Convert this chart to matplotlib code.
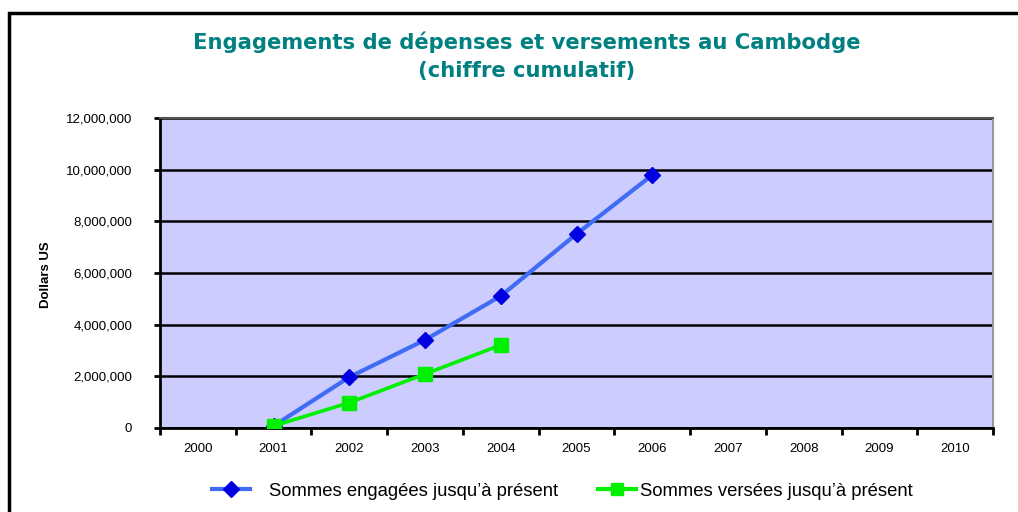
import numpy as np
import matplotlib.pyplot as plt
from matplotlib.patches import Rectangle
from matplotlib.lines import Line2D

# ===============================
# Données
# ===============================
years = ["2000", "2001", "2002", "2003", "2004", "2005",
         "2006", "2007", "2008", "2009", "2010"]

engagees_years = ["2001", "2002", "2003", "2004", "2005", "2006"]
engagees = [80000, 1970000, 3410000, 5110000, 7510000, 9790000]

versees_years = ["2001", "2002", "2003", "2004"]
versees = [80000, 980000, 2090000, 3210000]

yticks = [0, 2000000, 4000000, 6000000, 8000000, 10000000, 12000000]

BLUE_LINE = "#3F6BF5"
BLUE_MARK = "#0000E0"
GREEN = "#00F000"

# ===============================
# Figure
# ===============================
plt.rcParams["font.family"] = ["Liberation Sans", "DejaVu Sans"]

fig = plt.figure(figsize=(10.18, 5.12), dpi=100)
ax = fig.add_axes([160 / 1018, 1 - 428 / 512, 833 / 1018, 310 / 512])

# cadre extérieur
fig.patches.append(Rectangle((9 / 1018, -0.1), 1.2, 1 - 13 / 512 + 0.1,
                             transform=fig.transFigure, fill=False,
                             edgecolor="black", linewidth=2.5))

ax.set_facecolor("#CCCCFF")

xpos = {y: i for i, y in enumerate(years)}

ax.plot([xpos[y] for y in engagees_years], engagees, color=BLUE_LINE,
        lw=3, marker="D", ms=8.5, mfc=BLUE_MARK, mec=BLUE_MARK, zorder=4)
ax.plot([xpos[y] for y in versees_years], versees, color=GREEN,
        lw=2.6, marker="s", ms=10, mfc=GREEN, mec=GREEN, zorder=4)

ax.set_xlim(-0.5, len(years) - 0.5)
ax.set_ylim(0, 12000000)

ax.set_xticks(range(len(years)))
ax.set_xticklabels(years, fontsize=9.5)
ax.set_xticks(np.arange(-0.5, len(years)), minor=True)
ax.tick_params(axis="x", which="major", length=0, pad=11)
ax.tick_params(axis="x", which="minor", length=5, width=2, direction="out")

ax.set_yticks(yticks)
ax.set_yticklabels([f"{v:,}" for v in yticks], fontsize=9.5)
ax.tick_params(axis="y", length=4, width=2, direction="out", pad=16)

ax.grid(axis="y", color="black", lw=1.8, zorder=1)
ax.set_axisbelow(True)

ax.spines["left"].set_linewidth(2)
ax.spines["bottom"].set_linewidth(2)
ax.spines["top"].set_color("#555555")
ax.spines["top"].set_linewidth(1.5)
ax.spines["right"].set_color("#999999")
ax.spines["right"].set_linewidth(1.5)

fig.text(46 / 1018, 1 - 275 / 512, "Dollars US", rotation=90,
         ha="center", va="center", fontsize=9.5, fontweight="bold")

fig.text(527 / 1018, 1 - 56 / 512,
         "Engagements de dépenses et versements au Cambodge\n(chiffre cumulatif)",
         ha="center", va="center", color="#008080", fontsize=15.2,
         fontweight="bold", family="DejaVu Sans", linespacing=1.5)

# légende (deux blocs, comme dans l'original)
h1 = Line2D([], [], color=BLUE_LINE, lw=3, marker="D", ms=8.5,
            mfc=BLUE_MARK, mec=BLUE_MARK)
h2 = Line2D([], [], color=GREEN, lw=3, marker="s", ms=9,
            mfc=GREEN, mec=GREEN)
fig.legend([h1], ["Sommes engagées jusqu’à présent"], loc="center left",
           bbox_to_anchor=(195 / 1018, 1 - 491 / 512), frameon=False,
           fontsize=13.3, handlelength=2.1, handletextpad=1.0)
fig.legend([h2], ["Sommes versées jusqu’à présent"], loc="center left",
           bbox_to_anchor=(581 / 1018, 1 - 491 / 512), frameon=False,
           fontsize=13.3, handlelength=2.1, handletextpad=0.2)

fig.savefig("out.png", dpi=100)
